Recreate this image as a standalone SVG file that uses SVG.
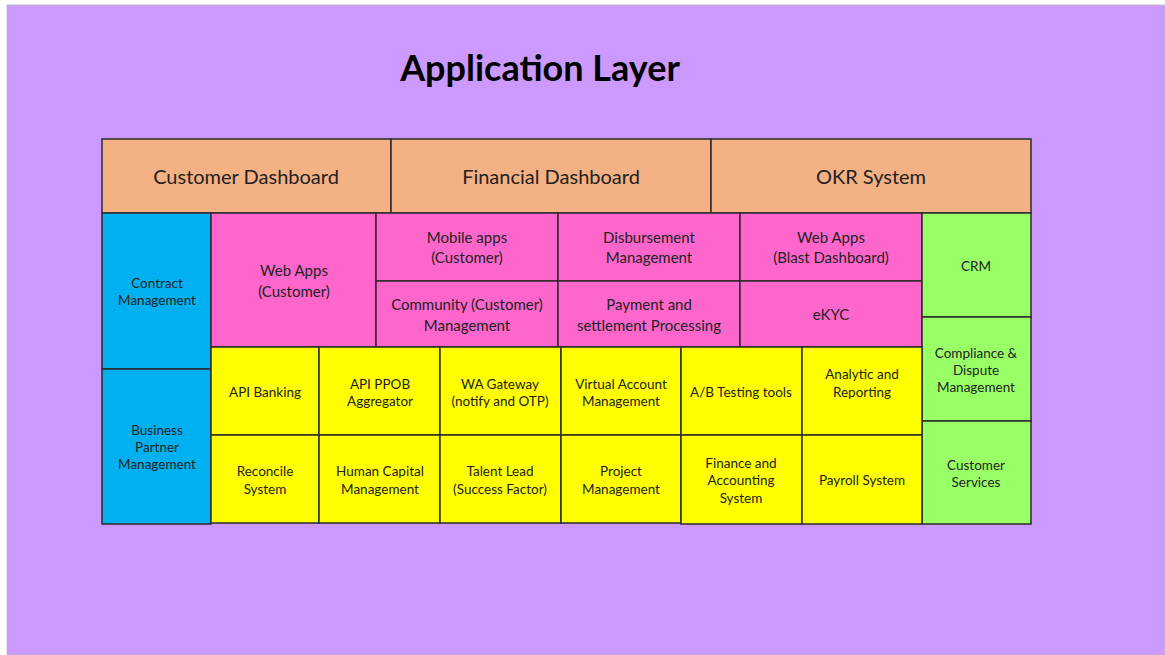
<svg xmlns="http://www.w3.org/2000/svg" width="1165" height="655" viewBox="0 0 1165 655">
<style>
.bx{stroke:#2b2b2b;stroke-width:1.5}
.or{fill:#F4B183}.bl{fill:#00B0F0}.pk{fill:#FF66CC}.ye{fill:#FFFF00}.gr{fill:#99FF66}
text{font-family:Lato,"Open Sans","Liberation Sans",sans-serif;fill:#222;text-anchor:middle}
.t1{font-size:20px}.t2{font-size:15px}.t3{font-size:13.5px}
.title{font-size:36px;font-weight:bold;fill:#000}
</style>
<rect x="0" y="0" width="1165" height="655" fill="#ffffff"/>
<rect x="7" y="5" width="1158" height="650" fill="#CC99FF" stroke="#b8b8b8" stroke-width="0.8"/>
<text class="title" x="540" y="81">Application Layer</text>

<g id="customer-dashboard"><rect class="bx or" x="102" y="139" width="289" height="74"/><text class="t1" x="246" y="184">Customer Dashboard</text></g>
<g id="financial-dashboard"><rect class="bx or" x="391" y="139" width="320" height="74"/><text class="t1" x="551" y="184">Financial Dashboard</text></g>
<g id="okr-system"><rect class="bx or" x="711" y="139" width="320" height="74"/><text class="t1" x="871" y="184">OKR System</text></g>

<g id="contract-management"><rect class="bx bl" x="102" y="213" width="109" height="156"/><text class="t3"><tspan x="157" y="288">Contract</tspan><tspan x="157" y="305">Management</tspan></text></g>
<g id="business-partner-management"><rect class="bx bl" x="102" y="369" width="109" height="155"/><text class="t3"><tspan x="157" y="435">Business</tspan><tspan x="157" y="452">Partner</tspan><tspan x="157" y="469">Management</tspan></text></g>

<g id="web-apps-customer"><rect class="bx pk" x="211" y="213" width="165" height="134"/><text class="t2"><tspan x="294" y="276">Web Apps</tspan><tspan x="294" y="297">(Customer)</tspan></text></g>
<g id="mobile-apps"><rect class="bx pk" x="376" y="213" width="182" height="68"/><text class="t2"><tspan x="467" y="243">Mobile apps</tspan><tspan x="467" y="263">(Customer)</tspan></text></g>
<g id="disbursement-management"><rect class="bx pk" x="558" y="213" width="182" height="68"/><text class="t2"><tspan x="649" y="243">Disbursement</tspan><tspan x="649" y="263">Management</tspan></text></g>
<g id="web-apps-blast"><rect class="bx pk" x="740" y="213" width="182" height="68"/><text class="t2"><tspan x="831" y="243">Web Apps</tspan><tspan x="831" y="263">(Blast Dashboard)</tspan></text></g>
<g id="community-management"><rect class="bx pk" x="376" y="281" width="182" height="66"/><text class="t2"><tspan x="467" y="310">Community (Customer)</tspan><tspan x="467" y="331">Management</tspan></text></g>
<g id="payment-settlement"><rect class="bx pk" x="558" y="281" width="182" height="66"/><text class="t2"><tspan x="649" y="310">Payment and</tspan><tspan x="649" y="331">settlement Processing</tspan></text></g>
<g id="ekyc"><rect class="bx pk" x="740" y="281" width="182" height="66"/><text class="t2" x="831" y="320">eKYC</text></g>

<g id="crm"><rect class="bx gr" x="922" y="213" width="109" height="104"/><text class="t3" x="976" y="271">CRM</text></g>
<g id="compliance-dispute"><rect class="bx gr" x="922" y="317" width="109" height="104"/><text class="t3"><tspan x="976" y="358">Compliance &amp;</tspan><tspan x="976" y="375">Dispute</tspan><tspan x="976" y="392">Management</tspan></text></g>
<g id="customer-services"><rect class="bx gr" x="922" y="421" width="109" height="103"/><text class="t3"><tspan x="976" y="470">Customer</tspan><tspan x="976" y="487">Services</tspan></text></g>

<g id="api-banking"><rect class="bx ye" x="211" y="347" width="108" height="88"/><text class="t3" x="265" y="397">API Banking</text></g>
<g id="api-ppob"><rect class="bx ye" x="319" y="347" width="121" height="88"/><text class="t3"><tspan x="380" y="389">API PPOB</tspan><tspan x="380" y="406">Aggregator</tspan></text></g>
<g id="wa-gateway"><rect class="bx ye" x="440" y="347" width="121" height="88"/><text class="t3"><tspan x="500" y="389">WA Gateway</tspan><tspan x="500" y="406">(notify and OTP)</tspan></text></g>
<g id="virtual-account"><rect class="bx ye" x="561" y="347" width="120" height="88"/><text class="t3"><tspan x="621" y="389">Virtual Account</tspan><tspan x="621" y="406">Management</tspan></text></g>
<g id="ab-testing"><rect class="bx ye" x="681" y="347" width="121" height="88"/><text class="t3" x="741" y="397">A/B Testing tools</text></g>
<g id="analytic-reporting"><rect class="bx ye" x="802" y="347" width="120" height="88"/><text class="t3"><tspan x="862" y="379">Analytic and</tspan><tspan x="862" y="397">Reporting</tspan></text></g>

<g id="reconcile-system"><rect class="bx ye" x="211" y="435" width="108" height="88"/><text class="t3"><tspan x="265" y="476">Reconcile</tspan><tspan x="265" y="494">System</tspan></text></g>
<g id="human-capital"><rect class="bx ye" x="319" y="435" width="121" height="88"/><text class="t3"><tspan x="380" y="476">Human Capital</tspan><tspan x="380" y="494">Management</tspan></text></g>
<g id="talent-lead"><rect class="bx ye" x="440" y="435" width="121" height="88"/><text class="t3"><tspan x="500" y="476">Talent Lead</tspan><tspan x="500" y="494">(Success Factor)</tspan></text></g>
<g id="project-management"><rect class="bx ye" x="561" y="435" width="120" height="88"/><text class="t3"><tspan x="621" y="476">Project</tspan><tspan x="621" y="494">Management</tspan></text></g>
<g id="finance-accounting"><rect class="bx ye" x="681" y="435" width="121" height="89"/><text class="t3"><tspan x="741" y="468">Finance and</tspan><tspan x="741" y="485">Accounting</tspan><tspan x="741" y="503">System</tspan></text></g>
<g id="payroll-system"><rect class="bx ye" x="802" y="435" width="120" height="89"/><text class="t3" x="862" y="485">Payroll System</text></g>

<g id="connectors"></g>
</svg>
